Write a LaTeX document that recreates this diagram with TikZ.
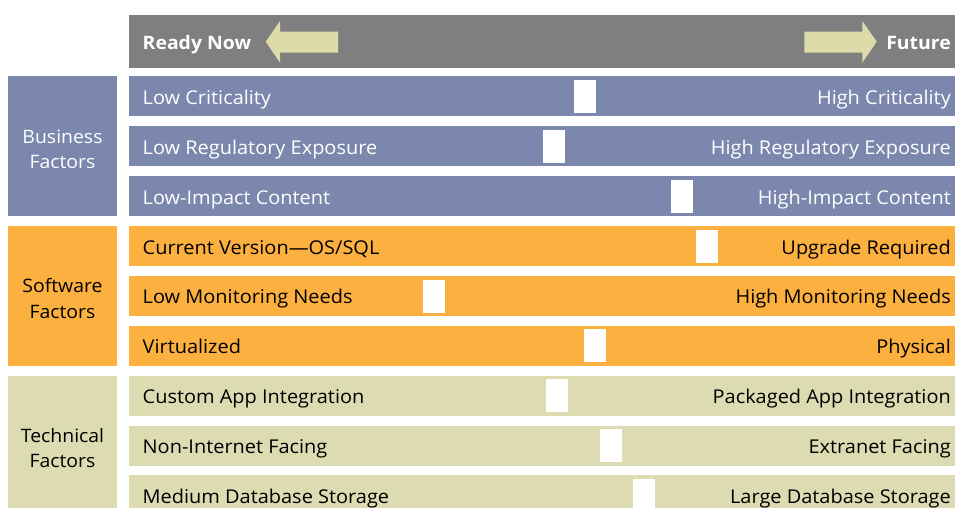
\documentclass[tikz,border=0pt]{standalone}
\usepackage{fontspec}
\setmainfont{Open Sans}[FakeStretch=1.05]
\definecolor{hdrgray}{RGB}{127,127,127}
\definecolor{bizblue}{RGB}{123,135,173}
\definecolor{swor}{RGB}{252,176,64}
\definecolor{techbg}{RGB}{221,219,178}
\definecolor{arrowc}{RGB}{221,219,170}
\tikzset{
  band/.style={fill=#1, draw=none, inner sep=0pt, anchor=north west, minimum width=826.5pt, minimum height=40pt},
  groupbox/.style={fill=#1, draw=none, inner sep=0pt, anchor=north west, minimum width=108.5pt, minimum height=140pt},
  marker/.style={fill=white, draw=none, inner sep=0pt, anchor=north west, minimum width=22pt, minimum height=33pt},
  lefttxt/.style={anchor=base west, inner sep=0pt, font=\fontsize{19}{22}\selectfont, text=#1},
  righttxt/.style={anchor=base east, inner sep=0pt, font=\fontsize{19}{22}\selectfont, text=#1},
  grouptxt/.style={align=center, inner sep=0pt, font=\fontsize{18.5}{25.5}\selectfont, text=#1},
  hdrtxt/.style={inner sep=0pt, font=\fontsize{18.5}{22}\selectfont\bfseries, text=white}
}
\begin{document}
\begin{tikzpicture}[x=1pt,y=-1pt]
\useasboundingbox (0,0) rectangle (955,508);
\clip (0,0) rectangle (955,508);
% header
\node[fill=hdrgray, inner sep=0pt, anchor=north west, minimum width=826.5pt, minimum height=53pt] (hdr) at (128.5,15) {};
\node[hdrtxt, anchor=base west] (ready) at (142.5,49.5) {Ready Now};
\node[hdrtxt, anchor=base east] (future) at (951,49.5) {Future};
\fill[arrowc] (265.7,41.7) -- (280,21) -- (280,31.7) -- (338,31.7) -- (338,52.7) -- (280,52.7) -- (280,62.7) -- cycle;
\fill[arrowc] (876.7,41.7) -- (862.3,21) -- (862.3,31.7) -- (804.3,31.7) -- (804.3,52.7) -- (862.3,52.7) -- (862.3,62.7) -- cycle;
% group boxes
\node[groupbox=bizblue] (biz) at (8,76) {};
\node[groupbox=swor] (sw) at (8,225.7) {};
\node[groupbox=techbg] (tech) at (8,375.4) {};
\node[grouptxt=white] (bizt) at (62.5,149.5) {Business\\Factors};
\node[grouptxt=black] (swt) at (62.5,298.3) {Software\\Factors};
\node[grouptxt=black] (techt) at (62.5,448.3) {Technical\\Factors};
% rows
\foreach \i/\col/\tc/\lt/\rt/\mx in {
  0/bizblue/white/{Low Criticality}/{High Criticality}/573.3,
  1/bizblue/white/{Low Regulatory Exposure}/{High Regulatory Exposure}/542.7,
  2/bizblue/white/{Low-Impact Content}/{High-Impact Content}/670.7,
  3/swor/black/{Current Version—OS/SQL}/{Upgrade Required}/696,
  4/swor/black/{Low Monitoring Needs}/{High Monitoring Needs}/423,
  5/swor/black/{Virtualized}/{Physical}/584,
  6/techbg/black/{Custom App Integration}/{Packaged App Integration}/545.7,
  7/techbg/black/{Non-Internet Facing}/{Extranet Facing}/599.3,
  8/techbg/black/{Medium Database Storage}/{Large Database Storage}/632.3}{
  \pgfmathsetmacro{\ty}{76+49.9*\i}
  \node[band=\col] (row\i) at (128.5,\ty) {};
  \node[marker] (mk\i) at (\mx,\ty+3.7) {};
  \node[lefttxt=\tc] (lt\i) at (142.5,\ty+28.3) {\lt};
  \node[righttxt=\tc] (rt\i) at (951,\ty+28.3) {\rt};
}
\end{tikzpicture}
\end{document}
